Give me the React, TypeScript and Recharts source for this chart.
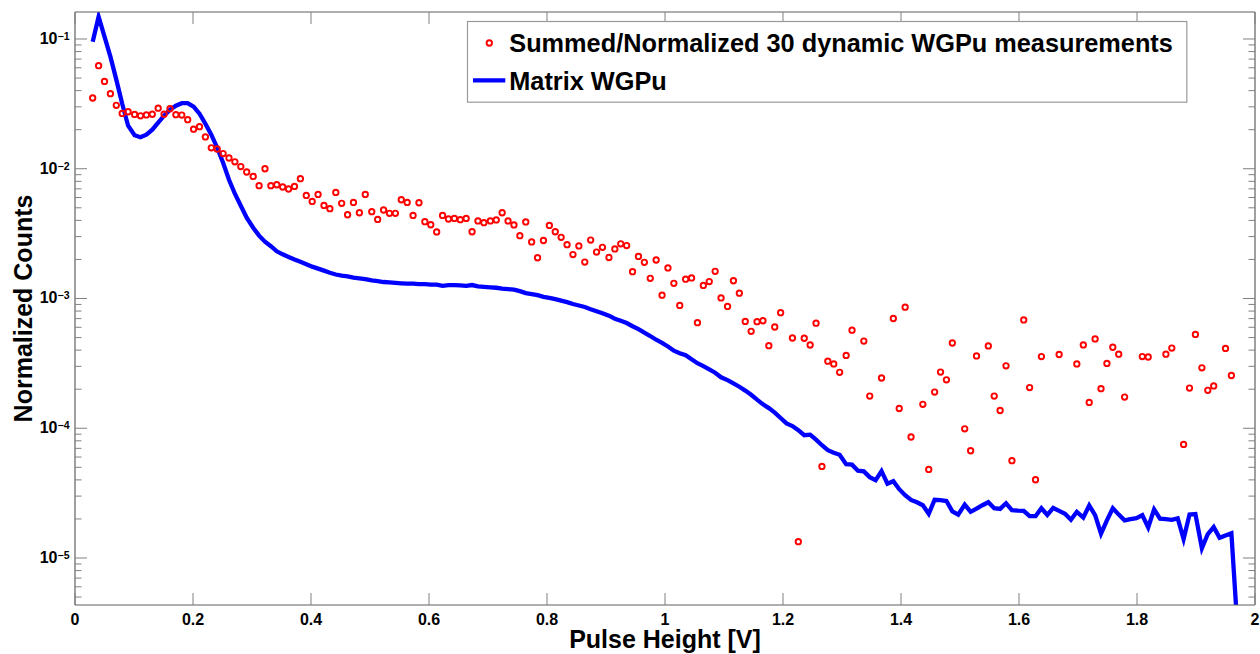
import React from 'react';
import { ComposedChart, Line, Scatter, XAxis, YAxis, Legend } from 'recharts';

// Pulse height bin centres [V]
const pulseHeight: number[] = [
  0.030, 0.040, 0.050, 0.060, 0.070, 0.080, 0.090, 0.101, 0.111, 0.121,
  0.131, 0.141, 0.151, 0.161, 0.171, 0.181, 0.191, 0.201, 0.211, 0.221,
  0.231, 0.241, 0.251, 0.261, 0.271, 0.281, 0.291, 0.302, 0.312, 0.322,
  0.332, 0.342, 0.352, 0.362, 0.372, 0.382, 0.392, 0.402, 0.412, 0.422,
  0.432, 0.442, 0.452, 0.462, 0.472, 0.482, 0.492, 0.503, 0.513, 0.523,
  0.533, 0.543, 0.553, 0.563, 0.573, 0.583, 0.593, 0.603, 0.613, 0.623,
  0.633, 0.643, 0.653, 0.663, 0.673, 0.683, 0.693, 0.704, 0.714, 0.724,
  0.734, 0.744, 0.754, 0.764, 0.774, 0.784, 0.794, 0.804, 0.814, 0.824,
  0.834, 0.844, 0.854, 0.864, 0.874, 0.884, 0.894, 0.905, 0.915, 0.925,
  0.935, 0.945, 0.955, 0.965, 0.975, 0.985, 0.995, 1.005, 1.015, 1.025,
  1.035, 1.045, 1.055, 1.065, 1.075, 1.085, 1.095, 1.106, 1.116, 1.126,
  1.136, 1.146, 1.156, 1.166, 1.176, 1.186, 1.196, 1.206, 1.216, 1.226,
  1.236, 1.246, 1.256, 1.266, 1.276, 1.286, 1.296, 1.307, 1.317, 1.327,
  1.337, 1.347, 1.357, 1.367, 1.377, 1.387, 1.397, 1.407, 1.417, 1.427,
  1.437, 1.447, 1.457, 1.467, 1.477, 1.487, 1.497, 1.508, 1.518, 1.528,
  1.538, 1.548, 1.558, 1.568, 1.578, 1.588, 1.598, 1.608, 1.618, 1.628,
  1.638, 1.648, 1.658, 1.668, 1.678, 1.688, 1.698, 1.709, 1.719, 1.729,
  1.739, 1.749, 1.759, 1.769, 1.779, 1.789, 1.799, 1.809, 1.819, 1.829,
  1.839, 1.849, 1.859, 1.869, 1.879, 1.889, 1.899, 1.910, 1.920, 1.930,
  1.940, 1.950, 1.960, 1.970,
];

// Summed/Normalized 30 dynamic WGPu measurements (null = empty bin)
const measuredCounts: (number | null)[] = [
  0.0351, 0.0623, 0.0471, 0.0379, 0.0308, 0.0267, 0.0275, 0.0262, 0.0256, 0.0260,
  0.0263, 0.0293, 0.0263, 0.0290, 0.0261, 0.0259, 0.0239, 0.0202, 0.0211, 0.0176,
  0.0145, 0.0142, 0.0131, 0.0121, 0.0113, 0.0104, 0.00944, 0.00873, 0.0074, 0.0100,
  0.0074, 0.00753, 0.00723, 0.00698, 0.00731, 0.00838, 0.00623, 0.0056, 0.00634, 0.00522,
  0.00492, 0.00657, 0.00541, 0.00442, 0.0055, 0.00458, 0.00634, 0.00467, 0.00407, 0.00481,
  0.00453, 0.00453, 0.00577, 0.0055, 0.00437, 0.00547, 0.00391, 0.0037, 0.00326, 0.00437,
  0.0041, 0.00414, 0.00405, 0.00414, 0.00327, 0.00396, 0.00384, 0.00396, 0.00403, 0.00458,
  0.00396, 0.00369, 0.00305, 0.00389, 0.00273, 0.00206, 0.0028, 0.00366, 0.00327, 0.00296,
  0.0026, 0.00218, 0.00254, 0.00191, 0.00282, 0.00228, 0.00248, 0.00207, 0.00241, 0.00264,
  0.00256, 0.00161, 0.00211, 0.0019, 0.00143, 0.00198, 0.00106, 0.00172, 0.00131, 8.85e-4,
  1.41e-3, 1.44e-3, 6.51e-4, 1.26e-3, 1.35e-3, 1.62e-3, 1.01e-3, 8.69e-4, 1.37e-3, 1.10e-3,
  6.66e-4, 5.58e-4, 6.63e-4, 6.74e-4, 4.33e-4, 6.03e-4, 7.77e-4, null, 4.96e-4, 1.335e-5,
  4.94e-4, 4.38e-4, 6.45e-4, 5.08e-5, 3.29e-4, 3.13e-4, 2.70e-4, 3.64e-4, 5.70e-4, null,
  4.70e-4, 1.77e-4, null, 2.44e-4, null, 7.01e-4, 1.42e-4, 8.57e-4, 8.56e-5, null,
  1.53e-4, 4.82e-5, 1.90e-4, 2.71e-4, 2.36e-4, 4.54e-4, null, 9.89e-5, 6.71e-5, 3.61e-4,
  null, 4.31e-4, 1.77e-4, 1.37e-4, 3.03e-4, 5.62e-5, null, 6.84e-4, 2.06e-4, 4.01e-5,
  3.57e-4, null, null, 3.70e-4, null, null, 3.13e-4, 4.39e-4, 1.58e-4, 4.88e-4,
  2.02e-4, 3.16e-4, 4.21e-4, 3.72e-4, 1.74e-4, null, null, 3.57e-4, 3.54e-4, null,
  null, 3.72e-4, 4.15e-4, null, 7.51e-5, 2.04e-4, 5.29e-4, 2.92e-4, 1.96e-4, 2.12e-4,
  null, 4.12e-4, 2.55e-4, null,
];

// Matrix WGPu
const matrixCounts: number[] = [
  0.0953, 0.1486, 0.1042, 0.0731, 0.0486, 0.0317, 0.02147, 0.01814, 0.0175, 0.0183,
  0.0200, 0.02264, 0.02564, 0.02851, 0.03061, 0.0320, 0.0320, 0.03007, 0.02657, 0.02224,
  0.0183, 0.01452, 0.01113, 0.00823, 0.00642, 0.00519, 0.00419, 0.00351, 0.00305, 0.00274,
  0.00253, 0.00231, 0.00219, 0.00209, 0.0020, 0.00192, 0.00184, 0.00176, 0.0017, 0.00164,
  0.00158, 0.00153, 0.0015, 0.00148, 0.00145, 0.00143, 0.00141, 0.00138, 0.00136, 0.00134,
  0.00133, 0.00132, 0.00131, 0.0013, 0.0013, 0.00129, 0.00129, 0.00128, 0.00128, 0.00125,
  0.00127, 0.00127, 0.00126, 0.00125, 0.00127, 0.00124, 0.00123, 0.00122, 0.00121, 0.00119,
  0.00118, 0.00117, 0.00114, 0.0011, 0.00108, 0.00106, 0.00103, 0.00101, 9.88e-4, 9.62e-4,
  9.37e-4, 9.07e-4, 8.83e-4, 8.60e-4, 8.27e-4, 7.98e-4, 7.70e-4, 7.37e-4, 6.99e-4, 6.74e-4,
  6.47e-4, 6.11e-4, 5.80e-4, 5.45e-4, 5.14e-4, 4.81e-4, 4.55e-4, 4.27e-4, 3.96e-4, 3.79e-4,
  3.66e-4, 3.40e-4, 3.17e-4, 3.01e-4, 2.84e-4, 2.68e-4, 2.47e-4, 2.35e-4, 2.22e-4, 2.09e-4,
  1.95e-4, 1.81e-4, 1.66e-4, 1.53e-4, 1.43e-4, 1.32e-4, 1.20e-4, 1.09e-4, 1.04e-4, 9.66e-5,
  8.84e-5, 8.92e-5, 8.16e-5, 7.40e-5, 6.77e-5, 6.48e-5, 6.25e-5, 5.28e-5, 5.24e-5, 4.71e-5,
  4.65e-5, 4.20e-5, 3.98e-5, 4.67e-5, 3.74e-5, 3.91e-5, 3.39e-5, 3.05e-5, 2.80e-5, 2.69e-5,
  2.55e-5, 2.19e-5, 2.81e-5, 2.79e-5, 2.75e-5, 2.29e-5, 2.16e-5, 2.58e-5, 2.27e-5, 2.40e-5,
  2.55e-5, 2.69e-5, 2.42e-5, 2.39e-5, 2.64e-5, 2.34e-5, 2.32e-5, 2.31e-5, 2.10e-5, 2.10e-5,
  2.42e-5, 2.15e-5, 2.43e-5, 2.31e-5, 2.19e-5, 1.97e-5, 2.27e-5, 2.05e-5, 2.54e-5, 2.14e-5,
  1.54e-5, 1.95e-5, 2.42e-5, 2.16e-5, 1.95e-5, 1.99e-5, 2.03e-5, 2.14e-5, 1.72e-5, 2.37e-5,
  2.01e-5, 1.99e-5, 1.97e-5, 2.02e-5, 1.40e-5, 2.16e-5, 2.18e-5, 1.19e-5, 1.53e-5, 1.73e-5,
  1.43e-5, 1.49e-5, 1.55e-5, 3.0e-6,
];

const xTicks = [0, 0.2, 0.4, 0.6, 0.8, 1, 1.2, 1.4, 1.6, 1.8, 2];
const yTicks = [
  1e-1,
  9e-2, 8e-2, 7e-2, 6e-2, 5e-2, 4e-2, 3e-2, 2e-2, 1e-2,
  9e-3, 8e-3, 7e-3, 6e-3, 5e-3, 4e-3, 3e-3, 2e-3, 1e-3,
  9e-4, 8e-4, 7e-4, 6e-4, 5e-4, 4e-4, 3e-4, 2e-4, 1e-4,
  9e-5, 8e-5, 7e-5, 6e-5, 5e-5, 4e-5, 3e-5, 2e-5, 1e-5,
  9e-6, 8e-6, 7e-6, 6e-6, 5e-6,
];
const yDomain: [number, number] = [4.343e-6, 0.16145];
const xDomain: [number, number] = [0, 2];

const measuredName = 'Summed/Normalized 30 dynamic WGPu measurements';
const matrixName = 'Matrix WGPu';
const xTitle = 'Pulse Height [V]';
const yTitle = 'Normalized Counts';

const FONT = '"Liberation Sans", Arial, Helvetica, sans-serif';
const AXIS_COLOR = '#606060';
const TICK_COLOR = '#808080';
const RED = '#ff0000';
const BLUE = '#0000ff';

const matrixRows = pulseHeight.map((x, i) => ({ x, matrix: matrixCounts[i] }));
const measuredRows = pulseHeight
  .map((x, i) => ({ x, measured: measuredCounts[i] }))
  .filter((r) => r.measured !== null && r.measured !== undefined);

const exponentOf = (v: number) => {
  const l = Math.log10(v);
  const r = Math.round(l);
  return Math.abs(l - r) < 1e-6 ? r : null;
};

const BottomTick = (props: any) => {
  const { x, y, payload } = props;
  return (
    <g>
      <line x1={x} x2={x} y1={y} y2={y - 12} stroke={TICK_COLOR} strokeWidth={1} />
      <text x={x} y={y + 19.5} textAnchor="middle" fontFamily={FONT} fontWeight="bold" fontSize={16} fill="#000">
        {String(payload.value)}
      </text>
    </g>
  );
};

const TopTick = (props: any) => {
  const { x, y } = props;
  return <line x1={x} x2={x} y1={y} y2={y + 12} stroke={TICK_COLOR} strokeWidth={1} />;
};

const LeftTick = (props: any) => {
  const { x, y, payload } = props;
  const e = exponentOf(payload.value);
  const len = e !== null ? 12 : 6.5;
  return (
    <g>
      <line x1={x} x2={x + len} y1={y} y2={y} stroke={TICK_COLOR} strokeWidth={1} />
      {e !== null && (
        <text x={x - 5.5} y={y + 5} textAnchor="end" fontFamily={FONT} fontWeight="bold" fontSize={16} fill="#000">
          10
          <tspan dy={-4} fontSize={10.5}>{'\u2212' + String(-e)}</tspan>
        </text>
      )}
    </g>
  );
};

const RightTick = (props: any) => {
  const { x, y, payload } = props;
  const e = exponentOf(payload.value);
  const len = e !== null ? 12 : 6.5;
  return <line x1={x} x2={x - len} y1={y} y2={y} stroke={TICK_COLOR} strokeWidth={1} />;
};

const XTitle = (props: any) => {
  const vb = props.viewBox || { x: 75, y: 605, width: 1180, height: 49 };
  return (
    <text x={vb.x + vb.width / 2} y={vb.y + 43.3} textAnchor="middle" fontFamily={FONT} fontWeight="bold" fontSize={25} fill="#000">
      {xTitle}
    </text>
  );
};

const YTitle = (props: any) => {
  const vb = props.viewBox || { x: 0, y: 12, width: 75, height: 593 };
  const cx = vb.x + 31.7;
  const cy = vb.y + vb.height / 2;
  return (
    <text x={cx} y={cy} transform={`rotate(-90 ${cx} ${cy})`} textAnchor="middle" fontFamily={FONT} fontWeight="bold" fontSize={25} fill="#000">
      {yTitle}
    </text>
  );
};

const LegendBox = () => (
  <svg width={722} height={83} style={{ display: 'block', overflow: 'visible' }}>
    <rect x={0.5} y={0.5} width={719.3} height={80.7} fill="#ffffff" stroke="#9a9a9a" strokeWidth={1.2} />
    <circle cx={22.3} cy={22} r={2.7} fill="none" stroke={RED} strokeWidth={1.9} />
    <text x={42.3} y={31.3} fontFamily={FONT} fontWeight="bold" fontSize={25.3} fill="#000">
      {measuredName}
    </text>
    <line x1={6} x2={38.3} y1={59.3} y2={59.3} stroke={BLUE} strokeWidth={4.3} />
    <text x={42.3} y={69} fontFamily={FONT} fontWeight="bold" fontSize={25.3} fill="#000">
      {matrixName}
    </text>
  </svg>
);

const RingShape = (props: any) => {
  const { cx, cy } = props;
  if (cx == null || cy == null || isNaN(cx) || isNaN(cy)) return null;
  return <circle cx={cx} cy={cy} r={2.7} fill="none" stroke={RED} strokeWidth={1.9} />;
};

export default function App() {
  return (
    <div style={{ position: 'absolute', left: 0, top: 0, width: 1260, height: 654, background: '#ffffff' }}>
      <ComposedChart width={1260} height={654} margin={{ top: 0, right: 0, bottom: 0, left: 0 }}>
        <XAxis
          xAxisId="bottom"
          dataKey="x"
          type="number"
          domain={xDomain}
          ticks={xTicks}
          interval={0}
          allowDataOverflow
          height={49}
          tickSize={0}
          tickMargin={0}
          tickLine={false}
          axisLine={{ stroke: AXIS_COLOR, strokeWidth: 1.2 }}
          tick={BottomTick}
          label={XTitle}
        />
        <XAxis
          xAxisId="top"
          orientation="top"
          dataKey="x"
          type="number"
          domain={xDomain}
          ticks={xTicks}
          interval={0}
          allowDataOverflow
          height={12}
          tickSize={0}
          tickMargin={0}
          tickLine={false}
          axisLine={{ stroke: AXIS_COLOR, strokeWidth: 1.2 }}
          tick={TopTick}
        />
        <YAxis
          yAxisId="left"
          orientation="left"
          type="number"
          scale="log"
          domain={yDomain}
          ticks={yTicks}
          interval={0}
          allowDataOverflow
          width={75}
          tickSize={0}
          tickMargin={0}
          tickLine={false}
          axisLine={{ stroke: AXIS_COLOR, strokeWidth: 1.2 }}
          tick={LeftTick}
          label={YTitle}
        />
        <YAxis
          yAxisId="right"
          orientation="right"
          type="number"
          scale="log"
          domain={yDomain}
          ticks={yTicks}
          interval={0}
          allowDataOverflow
          width={5}
          tickSize={0}
          tickMargin={0}
          tickLine={false}
          axisLine={{ stroke: AXIS_COLOR, strokeWidth: 1.2 }}
          tick={RightTick}
        />
        <Legend
          layout="vertical"
          align="center"
          verticalAlign="middle"
          content={LegendBox}
          wrapperStyle={{ left: 466.5, top: 20.5, width: 722, height: 83 }}
        />
        <Line
          xAxisId="bottom"
          yAxisId="right"
          data={matrixRows}
          dataKey="matrix"
          name={matrixName}
          type="linear"
          stroke={BLUE}
          strokeWidth={4.3}
          dot={false}
          activeDot={false}
          isAnimationActive={false}
        />
        <Scatter
          xAxisId="top"
          yAxisId="left"
          data={measuredRows}
          dataKey="measured"
          name={measuredName}
          shape={RingShape}
          isAnimationActive={false}
        />
      </ComposedChart>
    </div>
  );
}
